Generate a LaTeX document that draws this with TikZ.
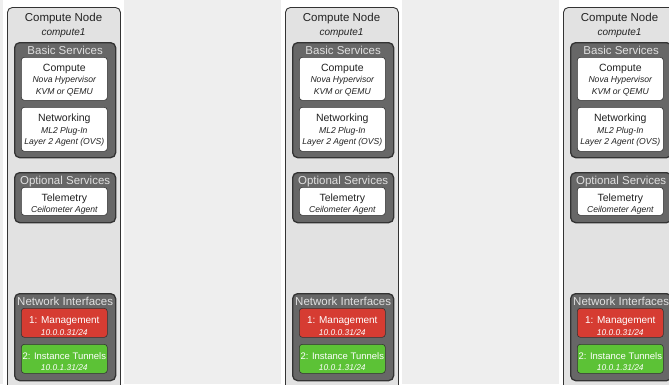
\documentclass[tikz,border=0pt]{standalone}
\usepackage{fontspec}
\setmainfont{Liberation Sans}
\usetikzlibrary{positioning}
\definecolor{pagebg}{HTML}{EEEEEE}
\definecolor{edge}{HTML}{333333}
\definecolor{nodefill}{HTML}{E2E2E2}
\definecolor{groupfill}{HTML}{676767}
\definecolor{labelgray}{HTML}{E0E0E0}
\definecolor{ink}{HTML}{222222}
\definecolor{mgmtred}{HTML}{D63C32}
\definecolor{tunnelgreen}{HTML}{5CC236}
\tikzset{
  nodebox/.style={draw=edge,fill=nodefill,rounded corners=5pt,line width=0.9pt,
                  minimum width=113pt,anchor=north west,inner sep=0pt},
  nodetitle/.style={align=center,text=ink,inner sep=0pt,
                    font=\fontsize{11.5}{14}\selectfont},
  groupbox/.style={draw=edge,fill=groupfill,rounded corners=5pt,line width=1.3pt,
                   minimum width=101pt,anchor=north west,inner sep=0pt},
  grouplabel/.style={text=labelgray,inner sep=0pt,font=\fontsize{11.5}{13}\selectfont},
  svcbox/.style={draw=edge,fill=white,rounded corners=3pt,line width=0.6pt,
                 minimum width=86pt,anchor=north west,inner sep=0pt,align=center,
                 text=ink,font=\fontsize{8.6}{11.5}\selectfont\itshape},
  mgmt/.style={svcbox,fill=mgmtred,text=white,font=\fontsize{8.4}{12}\selectfont\itshape},
  tunnel/.style={svcbox,fill=tunnelgreen,text=white,font=\fontsize{8.4}{11}\selectfont\itshape}
}
% first line of a service box; optional arg = strut height (moves the text down)
\newcommand{\svcname}[3][8pt]{{\upshape\fontsize{#2}{11}\selectfont\rule{0pt}{#1}#3}}

\begin{document}
\begin{tikzpicture}[x=1pt,y=-1pt]
\useasboundingbox[fill=pagebg] (0,0) rectangle (669,384);
\clip (0,0) rectangle (669,384);
\foreach \c/\x in {1/0,2/278,3/556}{
\begin{scope}[xshift=\x pt]
\fill[white] (3,0) rectangle (124,384);
\node[nodebox,minimum height=400pt] (node\c) at (7,7) {};
\node[nodetitle] (title\c) at (63.5,25) {Compute Node\\{\itshape\fontsize{10}{14}\selectfont compute1}};
% basic services
\node[groupbox,minimum height=115pt] (basic\c) at (14,42) {};
\node[grouplabel,below=3.5pt of basic\c.north] (basiclbl\c) {Basic Services};
\node[svcbox,minimum height=43pt] (compute\c) at (21,57)
  {\svcname[10pt]{10.5}{Compute}\\Nova Hypervisor\\KVM or QEMU};
\node[svcbox,minimum height=44pt] (net\c) at (21,107)
  {\svcname[10pt]{10.5}{Networking}\\ML2 Plug-In\\Layer 2 Agent (OVS)};
% optional services
\node[groupbox,minimum height=50pt] (optional\c) at (14,172) {};
\node[grouplabel,below=3.5pt of optional\c.north] (optlbl\c) {Optional Services};
\node[svcbox,minimum height=28pt] (telemetry\c) at (21,187)
  {\svcname[13pt]{10.5}{Telemetry}\\Ceilometer Agent};
% network interfaces
\node[groupbox,minimum height=87pt] (iface\c) at (14,293) {};
\node[grouplabel,below=3.5pt of iface\c.north] (ifacelbl\c) {Network Interfaces};
\node[mgmt,minimum height=29pt] (mgmt\c) at (21,308)
  {\svcname[14pt]{10}{1: Management}\\10.0.0.31/24};
\node[tunnel,minimum height=29pt] (tunnel\c) at (21,344)
  {\svcname[12pt]{9.5}{2: Instance Tunnels}\\10.0.1.31/24};
\end{scope}
}
\end{tikzpicture}
\end{document}
